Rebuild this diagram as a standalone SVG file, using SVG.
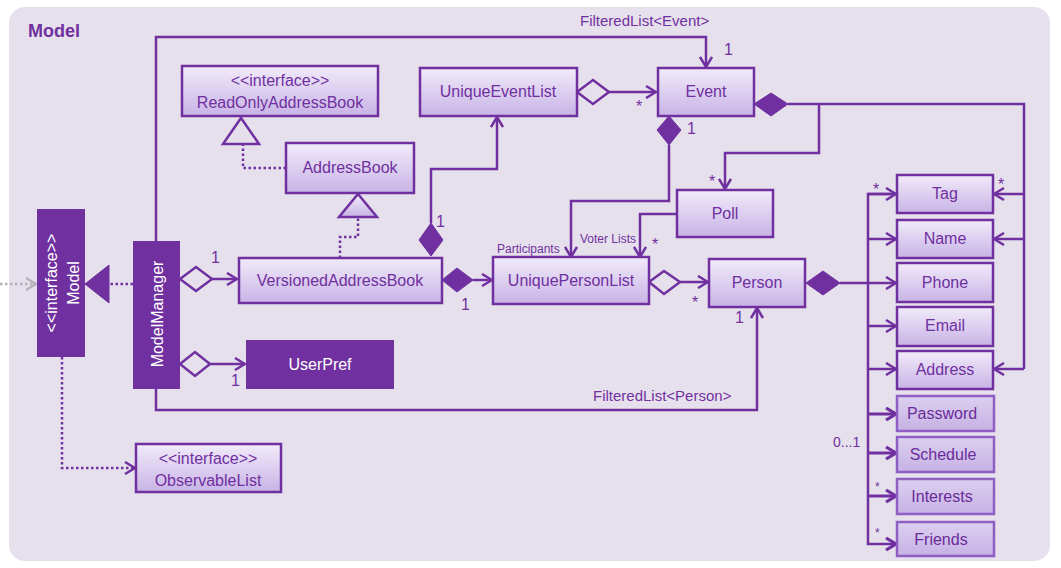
<svg xmlns="http://www.w3.org/2000/svg" width="1061" height="568" viewBox="0 0 1061 568">
<defs>
<linearGradient id="g" x1="0" y1="0" x2="0" y2="1">
<stop offset="0" stop-color="#F1EBFA"/>
<stop offset="1" stop-color="#C8B3E6"/>
</linearGradient>
<linearGradient id="g2" x1="0" y1="0" x2="0" y2="1">
<stop offset="0" stop-color="#DCD0F0"/>
<stop offset="1" stop-color="#C6B1E4"/>
</linearGradient>
<marker id="arr" viewBox="0 0 12 14" refX="11" refY="7" markerWidth="12" markerHeight="14" orient="auto" markerUnits="userSpaceOnUse">
<path d="M1,1 L11,7 L1,13" fill="none" stroke="#7030A0" stroke-width="2.5"/>
</marker>
<marker id="arrb" viewBox="0 0 12 14" refX="11" refY="7" markerWidth="12" markerHeight="14" orient="auto" markerUnits="userSpaceOnUse">
<path d="M1,1 L11,7 L1,13" fill="none" stroke="#7030A0" stroke-width="3.2"/>
</marker>
<marker id="arrg" viewBox="0 0 12 14" refX="11" refY="7" markerWidth="12" markerHeight="14" orient="auto" markerUnits="userSpaceOnUse">
<path d="M1,1 L11,7 L1,13" fill="none" stroke="#B5B0BA" stroke-width="2.5"/>
</marker>
</defs>
<style>
.n rect{fill:url(#g);stroke:#7030A0;stroke-width:2.5}
.n2 rect{fill:url(#g2);stroke:#8E5EC2;stroke-width:2.5}
.d rect{fill:#7030A0}
text{font-family:"Liberation Sans",Arial,sans-serif}
.t{font-size:16px;fill:#7030A0;text-anchor:middle}
.t2{font-size:16px;fill:#6A2C9A;text-anchor:middle}
.w{font-size:16px;fill:#FFFFFF;text-anchor:middle}
.lb{font-size:15px;fill:#7030A0}
.sm{font-size:12px;fill:#7030A0}
.c{fill:none;stroke:#7030A0;stroke-width:2.5}
.dt{stroke-dasharray:2.5 2.5}
.fd{fill:#7030A0;stroke:#7030A0;stroke-width:1}
.hd{fill:#E6E0EC;stroke:#7030A0;stroke-width:2.5}
</style>
<rect x="0" y="0" width="1061" height="568" fill="#FFFFFF"/>
<rect x="9" y="7" width="1041" height="554" rx="16" fill="#E6E0EC"/>
<text x="28" y="37" style="font-size:18px;font-weight:bold;fill:#7030A0">Model</text>

<g id="connectors">
<path d="M0,284 L36,284" class="dt" fill="none" stroke="#B5B0BA" stroke-width="2.5" marker-end="url(#arrg)"/>
<path d="M133,284 L108,284" class="c dt"/>
<polygon points="85,284 109,265 109,303" class="fd"/>
<path d="M62,357 L62,468 L135,468" class="c dt" marker-end="url(#arr)"/>
<polygon points="180,279 196,267 212,279 196,291" class="hd"/>
<path d="M212,279 L237,279" class="c" marker-end="url(#arr)"/>
<text x="211" y="263" class="lb" style="font-size:16px">1</text>
<polygon points="180,364 195,352 210,364 195,376" class="hd"/>
<path d="M210,364 L245,364" class="c" marker-end="url(#arr)"/>
<text x="231" y="386" class="lb" style="font-size:16px">1</text>
<path d="M156,241 L156,37 L706,37 L706,67" class="c" marker-end="url(#arr)"/>
<text x="580" y="26" class="lb">FilteredList&lt;Event&gt;</text>
<text x="724" y="55" class="lb" style="font-size:16px">1</text>
<path d="M156,388 L156,410 L757,410 L757,308" class="c" marker-end="url(#arr)"/>
<text x="593" y="401" class="lb">FilteredList&lt;Person&gt;</text>
<text x="735" y="323" class="lb" style="font-size:16px">1</text>
<path d="M286,168 L243,168 L243,144" class="c dt"/>
<polygon points="241,118 259,144 223,144" class="hd"/>
<path d="M340,258 L340,237 L358,237 L358,218" class="c dt"/>
<polygon points="358,194 377,217 339,217" fill="url(#g)" stroke="#7030A0" stroke-width="2.5"/>
<polygon points="431,223 443,240 431,256 419,240" class="fd"/>
<path d="M431,223 L431,169 L497,169 L497,117" class="c" marker-end="url(#arr)"/>
<text x="436" y="227" class="lb" style="font-size:16px">1</text>
<polygon points="442,280 457,268 473,280 457,292" class="fd"/>
<path d="M473,280 L492,280" class="c" marker-end="url(#arr)"/>
<text x="461" y="310" class="lb" style="font-size:16px">1</text>
<polygon points="577,92 593,80 609,92 593,104" class="hd"/>
<path d="M609,92 L656,92" class="c" marker-end="url(#arr)"/>
<text x="636" y="112" class="lb" style="font-size:16px">*</text>
<polygon points="669,116 681,130 669,145 657,130" class="fd"/>
<path d="M669,145 L669,201 L571,201 L571,257" class="c" marker-end="url(#arr)"/>
<text x="687" y="134" class="lb" style="font-size:16px">1</text>
<text x="497" y="253" class="sm">Participants</text>
<path d="M677,214 L640,214 L640,257" class="c" marker-end="url(#arr)"/>
<text x="580" y="243" class="sm">Voter Lists</text>
<text x="652" y="250" class="lb" style="font-size:16px">*</text>
<polygon points="754,104 771,93 788,104 771,116" class="fd"/>
<path d="M788,104 L1024,104 L1024,369" class="c"/>
<path d="M819,104 L819,153 L725,153 L725,189" class="c" marker-end="url(#arr)"/>
<text x="709" y="187" class="lb" style="font-size:16px">*</text>
<path d="M1024,194 L994,194" class="c" marker-end="url(#arr)"/>
<path d="M1024,239 L994,239" class="c" marker-end="url(#arr)"/>
<path d="M1024,369 L994,369" class="c" marker-end="url(#arr)"/>
<text x="998" y="190" class="lb" style="font-size:16px">*</text>
<polygon points="649,282 664,271 680,282 664,294" class="hd"/>
<path d="M680,282 L708,282" class="c" marker-end="url(#arr)"/>
<text x="692" y="308" class="lb" style="font-size:16px">*</text>
<polygon points="806,283 823,271 840,283 823,295" class="fd"/>
<path d="M840,283 L896,283" class="c" marker-end="url(#arr)"/>
<path d="M896,194 L868,194 L868,544 L896,544" class="c" marker-end="url(#arrb)"/>
<path d="M868,239 L896,239" class="c" marker-end="url(#arr)"/>
<path d="M868,326 L896,326" class="c" marker-end="url(#arr)"/>
<path d="M868,369 L896,369" class="c" marker-end="url(#arr)"/>
<path d="M868,414 L896,414" class="c" style="stroke-width:3" marker-end="url(#arrb)"/>
<path d="M868,453 L896,453" class="c" style="stroke-width:3" marker-end="url(#arrb)"/>
<path d="M868,496 L896,496" class="c" style="stroke-width:3" marker-end="url(#arrb)"/>
<path d="M868,194 L896,194" class="c" marker-end="url(#arr)"/>
<text x="873" y="195" class="lb" style="font-size:16px">*</text>
<text x="833" y="447" class="sm" style="font-size:14px">0...1</text>
<text x="875" y="491" class="sm">*</text>
<text x="875" y="537" class="sm">*</text>
</g>

<g id="node-model" class="d">
<rect x="37" y="209" width="48" height="148"/>
<text class="w" transform="translate(57,283) rotate(-90)">&lt;&lt;interface&gt;&gt;</text>
<text class="w" transform="translate(79,283) rotate(-90)">Model</text>
</g>
<g id="node-modelmanager" class="d">
<rect x="133" y="241" width="47" height="148"/>
<text class="w" transform="translate(163,314) rotate(-90)">ModelManager</text>
</g>
<g id="node-userpref" class="d">
<rect x="246" y="340" width="148" height="49"/>
<text x="320" y="370" class="w">UserPref</text>
</g>
<g id="node-readonlyaddressbook" class="n">
<rect x="182" y="66" width="196" height="50"/>
<text x="280" y="86" class="t">&lt;&lt;interface&gt;&gt;</text>
<text x="280" y="108" class="t">ReadOnlyAddressBook</text>
</g>
<g id="node-addressbook" class="n">
<rect x="286" y="143" width="128" height="50"/>
<text x="350" y="173" class="t">AddressBook</text>
</g>
<g id="node-versionedaddressbook" class="n">
<rect x="239" y="258" width="203" height="45"/>
<text x="340" y="286" class="t">VersionedAddressBook</text>
</g>
<g id="node-uniqueeventlist" class="n">
<rect x="420" y="68" width="157" height="48"/>
<text x="498" y="97" class="t">UniqueEventList</text>
</g>
<g id="node-event" class="n">
<rect x="658" y="68" width="96" height="48"/>
<text x="706" y="97" class="t">Event</text>
</g>
<g id="node-poll" class="n">
<rect x="677" y="190" width="96" height="47"/>
<text x="725" y="219" class="t">Poll</text>
</g>
<g id="node-uniquepersonlist" class="n">
<rect x="493" y="257" width="156" height="47"/>
<text x="571" y="286" class="t">UniquePersonList</text>
</g>
<g id="node-person" class="n">
<rect x="709" y="259" width="96" height="48"/>
<text x="757" y="288" class="t">Person</text>
</g>
<g id="node-observablelist" class="n">
<rect x="136" y="444" width="145" height="48"/>
<text x="208" y="464" class="t">&lt;&lt;interface&gt;&gt;</text>
<text x="208" y="486" class="t">ObservableList</text>
</g>
<g id="node-tag" class="n">
<rect x="897" y="175" width="96" height="38"/>
<text x="945" y="199" class="t">Tag</text>
</g>
<g id="node-name" class="n">
<rect x="897" y="220" width="96" height="38"/>
<text x="945" y="244" class="t">Name</text>
</g>
<g id="node-phone" class="n">
<rect x="897" y="263" width="96" height="39"/>
<text x="945" y="288" class="t">Phone</text>
</g>
<g id="node-email" class="n">
<rect x="897" y="307" width="96" height="39"/>
<text x="945" y="331" class="t">Email</text>
</g>
<g id="node-address" class="n">
<rect x="897" y="351" width="96" height="38"/>
<text x="945" y="375" class="t">Address</text>
</g>
<g id="node-password" class="n2">
<rect x="897" y="396" width="97" height="35"/>
<text x="942" y="419" class="t2">Password</text>
</g>
<g id="node-schedule" class="n2">
<rect x="897" y="437" width="97" height="35"/>
<text x="943" y="460" class="t2">Schedule</text>
</g>
<g id="node-interests" class="n2">
<rect x="897" y="479" width="97" height="35"/>
<text x="942" y="502" class="t2">Interests</text>
</g>
<g id="node-friends" class="n2">
<rect x="897" y="522" width="97" height="34"/>
<text x="941" y="545" class="t2">Friends</text>
</g>
</svg>
